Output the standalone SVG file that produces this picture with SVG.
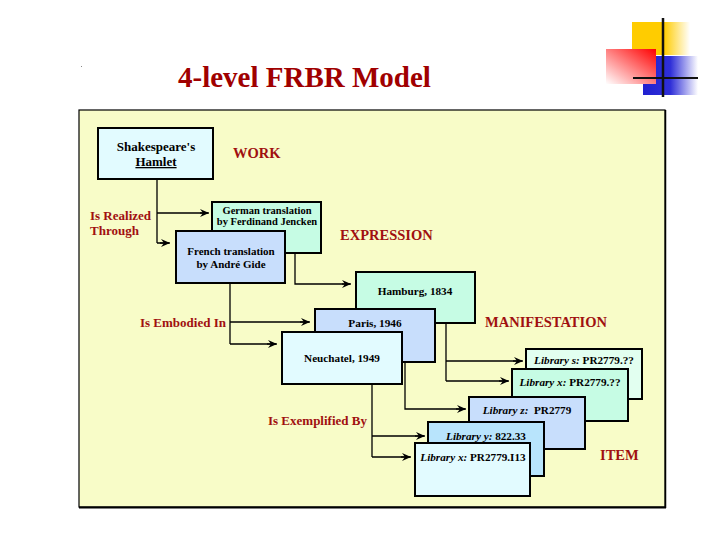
<svg xmlns="http://www.w3.org/2000/svg" width="720" height="540" viewBox="0 0 720 540">
<style>
.box{stroke:#000;stroke-width:2}
.t{font-family:"Liberation Serif","Times New Roman",serif;font-weight:bold;fill:#000;text-anchor:middle}
.lab{font-family:"Liberation Serif","Times New Roman",serif;font-weight:bold;fill:#a01010}
.c{fill:none;stroke:#000;stroke-width:1.3}
.mint{fill:#c6fce4}.blue{fill:#c8defc}.cyan{fill:#e2fbff}.pmint{fill:#e2fff0}.sky{fill:#b8e4fc}
</style>
<defs>
<linearGradient id="gy" x1="0" y1="0" x2="1" y2="0"><stop offset="0" stop-color="#ffcc00"/><stop offset="0.55" stop-color="#ffcc00"/><stop offset="1" stop-color="#ffffff"/></linearGradient>
<linearGradient id="gb" x1="0" y1="0" x2="1" y2="0"><stop offset="0" stop-color="#2020d0"/><stop offset="0.5" stop-color="#3030d8"/><stop offset="1" stop-color="#ffffff"/></linearGradient>
<linearGradient id="gr" x1="1" y1="0" x2="0" y2="1"><stop offset="0" stop-color="#ff0000"/><stop offset="1" stop-color="#ffffff"/></linearGradient>
<marker id="ar" markerWidth="10" markerHeight="8" refX="9" refY="4" orient="auto" markerUnits="userSpaceOnUse"><path d="M0,0 L9,4 L0,8 L3,4 Z" fill="#000"/></marker>
</defs>
<rect width="720" height="540" fill="#fff"/>
<g id="logo">
<rect x="632" y="22" width="58" height="33" fill="url(#gy)"/>
<rect x="643" y="56" width="55" height="39" fill="url(#gb)"/>
<rect x="606" y="49" width="50" height="35" fill="url(#gr)"/>
<line x1="663" y1="18" x2="663" y2="97" stroke="#111" stroke-width="2.5"/>
<line x1="633" y1="78" x2="698" y2="78" stroke="#111" stroke-width="2"/>
</g>
<rect x="81" y="66" width="1" height="1" fill="#888"/>
<text x="178" y="87" font-family="Liberation Serif,'Times New Roman',serif" font-weight="bold" font-size="29" fill="#a00000">4-level FRBR Model</text>
<rect id="panel" x="79" y="110" width="586" height="397" fill="#f8fcc8" stroke="#000" stroke-width="1.2"/>
<line x1="79" y1="507.5" x2="666" y2="507.5" stroke="#000" stroke-width="2"/>
<line x1="665.5" y1="110" x2="665.5" y2="508" stroke="#000" stroke-width="1.5"/>
<g id="connectors">
<path class="c" d="M157,180 V243 M157,213 H208 M157,243 H169"/>
<path class="c" d="M295,253 V284 H350"/>
<path class="c" d="M230,283 V344 M230,322 H309 M230,344 H276"/>
<path class="c" d="M446,323 V381 M446,361 H522 M446,381 H508"/>
<path class="c" d="M405,362 V409 H465"/>
<path class="c" d="M372,384 V457 M372,436 H424 M372,457 H410"/>
<g marker-end="url(#ar)" class="c" stroke-width="0">
<path d="M200,213 H209"/><path d="M160,243 H170"/><path d="M342,284 H351"/>
<path d="M300,322 H310"/><path d="M267,344 H277"/>
<path d="M513,361 H523"/><path d="M499,381 H509"/>
<path d="M456,409 H466"/><path d="M415,436 H425"/><path d="M401,457 H411"/>
</g>
</g>
<g id="work"><rect class="box cyan" x="98" y="128" width="115" height="51"/>
<text class="t" x="156" y="151" font-size="13">Shakespeare's</text>
<text class="t" x="156" y="166" font-size="13" text-decoration="underline">Hamlet</text></g>
<g id="german"><rect class="box mint" x="212" y="202" width="109" height="51"/>
<text class="t" x="267" y="214" font-size="10.5">German translation</text>
<text class="t" x="267" y="225" font-size="10.5">by Ferdinand Jencken</text></g>
<g id="french"><rect class="box blue" x="176" y="231" width="109" height="52"/>
<text class="t" x="231" y="255" font-size="11">French translation</text>
<text class="t" x="231" y="268" font-size="11">by André Gide</text></g>
<g id="hamburg"><rect class="box mint" x="356" y="272" width="119" height="51"/>
<text class="t" x="415" y="295" font-size="11.2">Hamburg, 1834</text></g>
<g id="paris"><rect class="box blue" x="315" y="309" width="120" height="53"/>
<text class="t" x="375" y="327" font-size="11.3">Paris, 1946</text></g>
<g id="neuchatel"><rect class="box cyan" x="282" y="332" width="120" height="52"/>
<text class="t" x="342" y="362" font-size="11.2">Neuchatel, 1949</text></g>
<g id="lib-s"><rect class="box pmint" x="526" y="349" width="116" height="50"/>
<text class="t" x="584" y="364" font-size="11.2"><tspan font-style="italic">Library s:</tspan> PR2779.??</text></g>
<g id="lib-x2"><rect class="box mint" x="512" y="369" width="116" height="52"/>
<text class="t" x="570" y="386" font-size="11.2"><tspan font-style="italic">Library x:</tspan> PR2779.??</text></g>
<g id="lib-z"><rect class="box blue" x="469" y="397" width="116" height="52"/>
<text class="t" x="527" y="414" font-size="11.2"><tspan font-style="italic">Library z:</tspan>&#160; PR2779</text></g>
<g id="lib-y"><rect class="box sky" x="428" y="422" width="116" height="54"/>
<text class="t" x="486" y="440" font-size="11.2"><tspan font-style="italic">Library y:</tspan> 822.33</text></g>
<g id="lib-x"><rect class="box cyan" x="415" y="443" width="115" height="53"/>
<text class="t" x="473" y="461" font-size="11.2"><tspan font-style="italic">Library x:</tspan> PR2779.I13</text></g>
<g id="labels">
<text class="lab" x="233" y="158" font-size="14.5">WORK</text>
<text class="lab" x="340" y="240" font-size="14.5">EXPRESSION</text>
<text class="lab" x="485" y="327" font-size="14.5">MANIFESTATION</text>
<text class="lab" x="600" y="460" font-size="14.5">ITEM</text>
<text class="lab" x="90" y="220" font-size="13">Is Realized</text>
<text class="lab" x="90" y="235" font-size="13">Through</text>
<text class="lab" x="140" y="327" font-size="13">Is Embodied In</text>
<text class="lab" x="268" y="425" font-size="13">Is Exemplified By</text>
</g>
</svg>
